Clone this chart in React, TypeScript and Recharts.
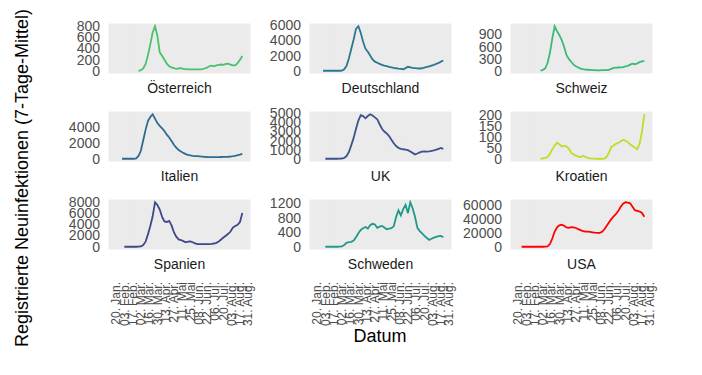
import React from 'react'
import { LineChart, Line, XAxis, YAxis, CartesianGrid } from 'recharts'

// days since 20 Jan, one point every 4 days
const days = [
  6, 10, 14, 18, 22, 26, 30, 34, 38, 42, 46, 50, 54, 58, 62, 66, 70, 74, 78, 82,
  86, 90, 94, 98, 102, 106, 110, 114, 118, 122, 126, 130, 134, 138, 142, 146,
  150, 154, 158, 162, 166, 170, 174, 178, 182, 186, 190, 194, 198, 202, 206,
  210, 214,
]

const tickDays = [0, 14, 28, 42, 56, 70, 84, 98, 112, 126, 140, 154, 168, 182, 196, 210, 224]
const tickLabels = [
  '20. Jan.', '03. Feb.', '17. Feb.', '02. Mär.', '16. Mär.', '30. Mär.',
  '13. Apr.', '27. Apr.', '11. Mai', '25. Mai', '08. Jun.', '22. Jun.',
  '06. Jul.', '20. Jul.', '03. Aug.', '17. Aug.', '31. Aug.',
]

const N = null
const oesterreich = [
  N, N, N, N, N, N, N, N, 5, 15, 45, 120, 280, 470, 680, 790, 620, 330, 270, 200,
  130, 85, 65, 50, 40, 45, 50, 40, 35, 30, 30, 30, 28, 30, 30, 35, 45, 60, 85, 95,
  85, 100, 110, 115, 110, 125, 130, 115, 100, 100, 140, 200, 265,
]
const deutschland = [
  N, 0, 2, 2, 2, 2, 1, 2, 5, 30, 200, 650, 1650, 2900, 4100, 5500, 5850, 5000,
  3800, 2900, 2500, 2000, 1500, 1200, 1050, 900, 780, 680, 600, 500, 440, 380,
  330, 280, 240, 200, 350, 520, 450, 380, 360, 320, 300, 330, 430, 500, 580, 680,
  780, 900, 1030, 1200, 1350,
]
const schweiz = [
  N, N, N, N, N, N, N, N, 10, 30, 70, 200, 450, 800, 1100, 980, 880, 760, 600, 400,
  300, 230, 160, 120, 90, 65, 50, 40, 35, 30, 25, 25, 22, 22, 25, 25, 28, 35, 55,
  80, 85, 90, 95, 100, 115, 130, 160, 185, 170, 190, 220, 240, 250,
]
const italien = [
  N, 0, 0, 0, 0, 0, 3, 50, 350, 1000, 2300, 3600, 4700, 5200, 5550, 5000, 4450,
  4100, 3800, 3450, 3000, 2650, 2200, 1750, 1400, 1100, 900, 730, 580, 480, 420,
  370, 330, 320, 300, 270, 240, 220, 210, 200, 200, 200, 210, 220, 230, 240, 250,
  280, 320, 370, 440, 520, 620,
]
const uk = [
  N, N, 2, 2, 2, 2, 3, 5, 10, 30, 100, 300, 750, 1500, 2300, 3300, 4200, 4800,
  4700, 4450, 4700, 4900, 4750, 4550, 4350, 3800, 3300, 3000, 2780, 2500, 2100,
  1700, 1400, 1200, 1100, 1050, 1000, 950, 800, 650, 480, 580, 700, 780, 820, 790,
  820, 870, 930, 1000, 1100, 1200, 1080,
]
const kroatien = [
  N, N, N, N, N, N, N, N, 2, 4, 6, 10, 25, 45, 62, 75, 68, 58, 62, 58, 48, 30, 22,
  16, 12, 10, 16, 10, 6, 4, 3, 3, 2, 2, 2, 3, 10, 30, 55, 63, 70, 75, 82, 88, 85,
  78, 68, 60, 52, 46, 70, 125, 205,
]
const spanien = [
  N, N, 0, 0, 0, 0, 0, 0, 10, 60, 300, 900, 2200, 3700, 5400, 7900, 7400, 6600,
  5300, 4500, 4400, 4600, 3800, 2600, 1800, 1300, 1200, 1000, 800, 900, 950, 800,
  600, 480, 470, 470, 480, 480, 480, 520, 580, 700, 950, 1300, 1650, 1950, 2300,
  2700, 3400, 3700, 3900, 4400, 6000,
]
const schweden = [
  N, N, 0, 1, 1, 1, 1, 1, 2, 10, 50, 110, 130, 135, 170, 260, 370, 460, 510, 540,
  500, 590, 630, 610, 520, 550, 570, 530, 480, 500, 510, 560, 820, 1000, 860, 1030,
  1150, 920, 1220, 1050, 820, 520, 430, 370, 300, 240, 190, 220, 250, 270, 290,
  300, 260,
]
const usa = [
  0, 0, 0, 0, 0, 0, 0, 1, 5, 20, 100, 500, 4000, 12000, 22000, 28000, 31000, 32000,
  30500, 28000, 27500, 28300, 28000, 27200, 25500, 24000, 22500, 22000, 21800,
  21500, 21000, 20500, 20200, 20000, 21500, 25000, 30000, 35000, 40000, 44000,
  47500, 52000, 58000, 62500, 64500, 64000, 63000, 58000, 53000, 52000, 51000,
  49000, 43500,
]

type Panel = { name: string; values: (number | null)[]; color: string; ticks: number[] }

const panels: Panel[] = [
  { name: 'Österreich', values: oesterreich, color: '#4AC16D', ticks: [0, 200, 400, 600, 800] },
  { name: 'Deutschland', values: deutschland, color: '#2A788E', ticks: [0, 2000, 4000, 6000] },
  { name: 'Schweiz', values: schweiz, color: '#3BBB75', ticks: [0, 300, 600, 900] },
  { name: 'Italien', values: italien, color: '#2F6B8E', ticks: [0, 2000, 4000] },
  { name: 'UK', values: uk, color: '#3B528B', ticks: [0, 1000, 2000, 3000, 4000, 5000] },
  { name: 'Kroatien', values: kroatien, color: '#BBDF27', ticks: [0, 50, 100, 150, 200] },
  { name: 'Spanien', values: spanien, color: '#404788', ticks: [0, 2000, 4000, 6000, 8000] },
  { name: 'Schweden', values: schweden, color: '#1F9A8A', ticks: [0, 400, 800, 1200] },
  { name: 'USA', values: usa, color: '#FF0000', ticks: [0, 20000, 40000, 60000] },
]

const COL_LEFT = [109, 310, 511]
const ROW_TOP = [24, 112, 200]
const PW = 141
const PH = 49
const AXW = 70
const PAD = 12 // room so edge labels are not clipped
const X_DOMAIN = [-12, 227]

function DateTick(props: any) {
  const { x, y, payload } = props
  const i = tickDays.indexOf(payload.value)
  return (
    <text
      x={x}
      y={y}
      transform={`rotate(-90 ${x} ${y})`}
      textAnchor="end"
      dy="0.35em"
      fontSize={12}
      fill="#4D4D4D"
    >
      {tickLabels[i]}
    </text>
  )
}

function FacetPanel({ panel, row, col }: { panel: Panel; row: number; col: number }) {
  const bottom = row === 2
  const data = days.map((d, i) => ({ day: d, v: panel.values[i] }))
  const vals = panel.values.filter((v): v is number => v !== null)
  const lo = Math.min(...vals)
  const hi = Math.max(...vals)
  const pad = (hi - lo) * 0.05
  const xh = bottom ? 90 : 0

  return (
    <div style={{ position: 'absolute', left: COL_LEFT[col] - AXW, top: ROW_TOP[row] - PAD }}>
      <LineChart
        width={AXW + PW + PAD}
        height={PH + xh + 2 * PAD}
        data={data}
        margin={{ top: PAD, right: PAD, bottom: PAD, left: 0 }}
      >
        <CartesianGrid fill="#EBEBEB" stroke="#EBEBEB" />
        <XAxis
          dataKey="day"
          type="number"
          domain={X_DOMAIN}
          ticks={tickDays}
          interval={0}
          hide={!bottom}
          height={xh}
          axisLine={false}
          tickLine={false}
          tickSize={0}
          tickMargin={33}
          tick={<DateTick />}
        />
        <YAxis
          type="number"
          width={AXW}
          domain={[lo - pad, hi + pad]}
          allowDataOverflow
          ticks={panel.ticks}
          interval={0}
          axisLine={false}
          tickLine={false}
          tickSize={0}
          tickMargin={9}
          tick={{ fill: '#4D4D4D', fontSize: 14 }}
        />
        <Line
          dataKey="v"
          type="linear"
          stroke={panel.color}
          strokeWidth={1.8}
          dot={false}
          isAnimationActive={false}
        />
      </LineChart>
    </div>
  )
}

export default function App() {
  return (
    <div
      style={{
        position: 'absolute',
        left: 0,
        top: 0,
        width: 702,
        height: 375,
        background: '#ffffff',
        fontFamily: 'Arial, "Liberation Sans", sans-serif',
        overflow: 'hidden',
      }}
    >
      {panels.map((p, i) => (
        <FacetPanel key={p.name} panel={p} row={Math.floor(i / 3)} col={i % 3} />
      ))}
      <svg
        width={702}
        height={375}
        style={{ position: 'absolute', left: 0, top: 0, pointerEvents: 'none' }}
      >
        {panels.map((p, i) => {
          const r = Math.floor(i / 3)
          const c = i % 3
          return (
            <text
              key={p.name}
              x={COL_LEFT[c] + PW / 2}
              y={ROW_TOP[r] + PH + 15}
              dy="0.35em"
              textAnchor="middle"
              fontSize={14}
              fill="#1A1A1A"
            >
              {p.name}
            </text>
          )
        })}
        <text x={380} y={336} dy="0.35em" textAnchor="middle" fontSize={18} fill="#000">
          Datum
        </text>
        <text
          x={22}
          y={178}
          dy="0.35em"
          textAnchor="middle"
          fontSize={18}
          fill="#000"
          transform="rotate(-90 22 178)"
        >
          Registrierte Neuinfektionen (7-Tage-Mittel)
        </text>
      </svg>
    </div>
  )
}
